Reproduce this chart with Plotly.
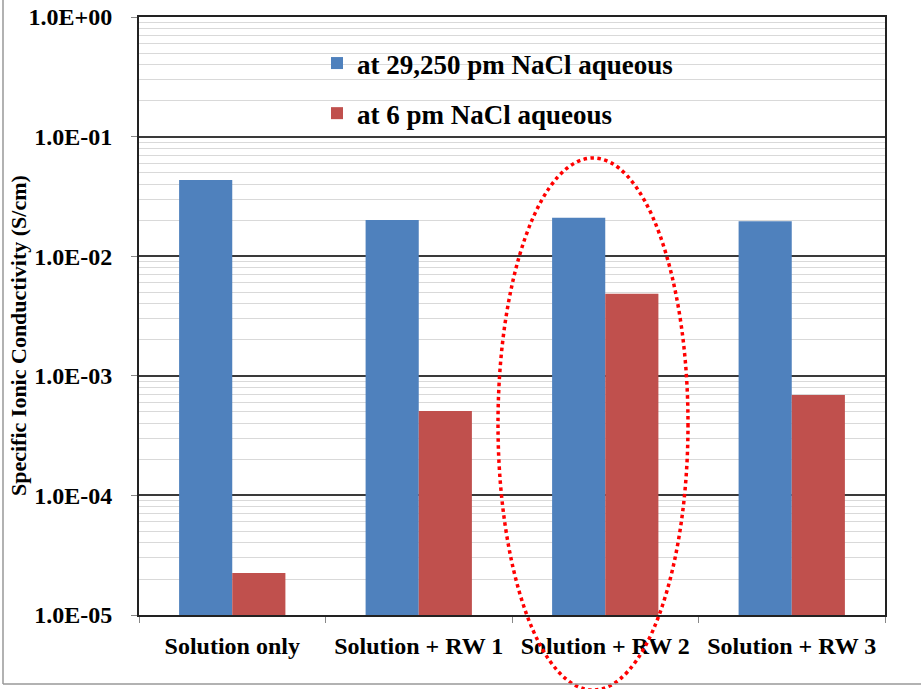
import plotly.graph_objects as go

categories = ["Solution only", "Solution + RW 1", "Solution + RW 2", "Solution + RW 3"]
series_names = ["at 29,250 pm NaCl aqueous", "at 6 pm NaCl aqueous"]
high_salt = [0.0434, 0.0201, 0.0210, 0.0196]
low_salt = [2.24e-5, 5.08e-4, 4.85e-3, 6.9e-4]
tick_vals = [1e-5, 1e-4, 1e-3, 1e-2, 1e-1, 1e0]
tick_text = ["1.0E-05", "1.0E-04", "1.0E-03", "1.0E-02", "1.0E-01", "1.0E+00"]
y_title = "Specific Ionic Conductivity (S/cm)"
colors = ["#4F81BD", "#C0504D"]

W, H = 921, 689
L, R, T, B = 139, 885, 17, 615

def px(x):
    return (x - L) / (R - L)

def py(y):
    return (B - y) / (B - T)

fig = go.Figure()
for i, (name, vals) in enumerate(zip(series_names, [high_salt, low_salt])):
    fig.add_trace(go.Bar(x=categories, y=vals, name=name, marker_color=colors[i],
                         marker_line_width=0, legendgroup=f"g{i}"))

font = "Liberation Serif, Times New Roman, serif"
fig.update_layout(
    width=W, height=H,
    margin=dict(l=L, r=W - R, t=T, b=H - B, autoexpand=False),
    paper_bgcolor="white", plot_bgcolor="white",
    barmode="group", bargap=0.43, bargroupgap=0,
    font=dict(family=font, color="black"),
    legend=dict(x=px(317), y=py(39), xanchor="left", yanchor="top",
                bgcolor="rgba(0,0,0,0)", borderwidth=0,
                font=dict(size=27, family=font, color="black", weight="bold"),
                tracegroupgap=12, traceorder="grouped", itemwidth=30),
    showlegend=True,
)
fig.update_yaxes(
    type="log", range=[-5, 0], automargin=False,
    tickvals=tick_vals, ticktext=tick_text,
    tickfont=dict(size=24, family=font, weight="bold"),
    ticks="outside", ticklen=6, tickcolor="#888888",
    ticklabelstandoff=14,
    showgrid=True, gridcolor="#3a3a3a", gridwidth=1.5,
    minor=dict(showgrid=True, gridcolor="#d9d9d9", gridwidth=1, dtick="D1", ticks=""),
    showline=True, linecolor="#222222", linewidth=2, mirror=True,
)
fig.update_xaxes(
    automargin=False,
    tickfont=dict(size=24, family=font, weight="bold"),
    ticks="outside", ticklen=6, tickcolor="#888888", tickson="boundaries",
    ticklabelstandoff=8,
    showline=True, linecolor="#222222", linewidth=2, mirror=True,
    showgrid=False,
)

# y-axis title (offset below axis centre as in the original)
fig.add_annotation(text=y_title, textangle=-90, xref="paper", yref="paper",
                   x=px(18), y=py(336), xanchor="center", yanchor="middle",
                   showarrow=False,
                   font=dict(size=22, family=font, color="black", weight="bold"))

# legend white box (above grid, below bars)
fig.add_shape(type="rect", xref="paper", yref="paper",
              x0=px(312), x1=px(698), y0=py(141), y1=py(39),
              fillcolor="white", line_width=0, layer="between")
# red dotted ellipse
fig.add_shape(type="circle", xref="paper", yref="paper",
              x0=px(498), x1=px(688), y0=py(690), y1=py(158),
              line=dict(color="#FF0000", width=3.5, dash="dot"), layer="above")
# outer border (left and bottom)
fig.add_shape(type="line", xref="paper", yref="paper",
              x0=px(3), x1=px(3), y0=py(684), y1=py(-5),
              line=dict(color="#999999", width=1.5))
fig.add_shape(type="line", xref="paper", yref="paper",
              x0=px(3), x1=px(930), y0=py(684), y1=py(684),
              line=dict(color="#999999", width=1.5))

fig.write_html("out.html", config={"displayModeBar": False},
               post_script="document.body.style.margin='0';document.body.style.padding='0';")
